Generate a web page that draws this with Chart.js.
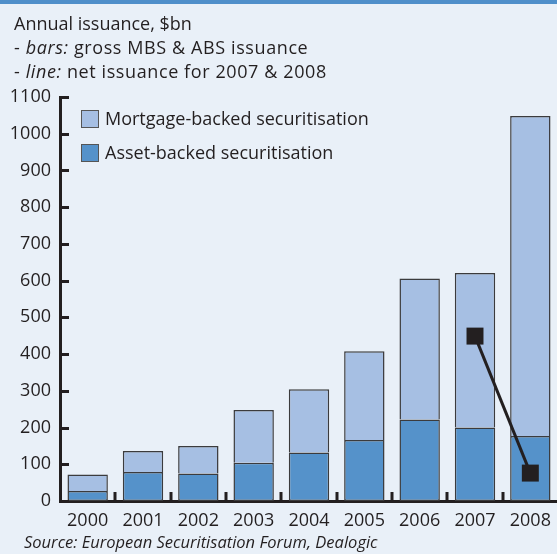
<!DOCTYPE html>
<html>
<head>
<meta charset="utf-8">
<script src="https://cdn.jsdelivr.net/npm/chart.js@4.4.1/dist/chart.umd.min.js"></script>
<style>
    html, body {
        margin: 0;
        padding: 0;
        overflow: hidden;
        background: #e9f0f8;
        font-family: "Open Sans", sans-serif;
        color: #231f20;
    }
    #topband {
        position: absolute;
        left: 0;
        top: 0;
        width: 557px;
        height: 4px;
        background: #4f8fca;
    }
    #box {
        position: absolute;
        left: 0;
        top: 0;
        width: 570px;
        height: 554px;
    }
    .head {
        position: absolute;
        left: 14px;
        font-size: 18px;
        line-height: 20px;
        white-space: nowrap;
    }
    .head.sub {
        letter-spacing: 0.6px;
    }
    .legend {
        position: absolute;
        font-size: 18px;
        line-height: 20px;
        white-space: nowrap;
    }
    .legend span {
        display: inline-block;
        width: 16px;
        height: 16px;
        border: 1px solid #555;
        vertical-align: -3px;
        margin-right: 6px;
    }
    .source {
        position: absolute;
        left: 24px;
        top: 530px;
        font-size: 16.5px;
        font-style: italic;
        white-space: nowrap;
    }
</style>
</head>
<body>
<div id="box"><canvas id="myChart" width="570" height="554"></canvas></div>
<div id="topband"></div>
<div class="head" style="top:13px">Annual issuance, $bn</div>
<div class="head sub" style="top:37px">- <i>bars:</i> gross MBS &amp; ABS issuance</div>
<div class="head sub" style="top:61px">- <i>line:</i> net issuance for 2007 &amp; 2008</div>
<div class="legend" style="left:81px;top:108px"><span style="background:#a6bfe3"></span>Mortgage-backed securitisation</div>
<div class="legend" style="left:81px;top:142px"><span style="background:#5592ca"></span>Asset-backed securitisation</div>
<div class="source">Source: European Securitisation Forum, Dealogic</div>

<script>
const years = ['2000', '2001', '2002', '2003', '2004', '2005', '2006', '2007', '2008'];

// gross issuance, $bn
const assetBacked = [27, 79, 75, 104, 132, 166, 222, 200, 177];
const mortgageBacked = [45, 57, 75, 144, 172, 242, 384, 421, 871];

// net issuance, only 2007 & 2008
const netIssuance = [null, null, null, null, null, null, null, 449, 76];

const yTicks = [0, 100, 200, 300, 400, 500, 600, 700, 800, 900, 1000, 1100];

const ink = '#231f20';
const barEdge = '#3b3b3d';

// short tick marks pointing into the plot: right of the y axis, up from the x axis
const innerTicks = {
    id: 'innerTicks',
    afterDraw(chart) {
        const c = chart.ctx;
        const area = chart.chartArea;
        const xs = chart.scales.x;
        const ys = chart.scales.y;
        c.save();
        c.strokeStyle = '#231f20';
        c.lineWidth = 3;
        c.beginPath();
        yTicks.forEach(v => {
            const py = Math.round(ys.getPixelForValue(v)) + 0.5;
            c.moveTo(area.left, py);
            c.lineTo(area.left + 9, py);
        });
        for (let i = 1; i < years.length; i++) {
            const px = Math.round((xs.getPixelForValue(i - 1) + xs.getPixelForValue(i)) / 2);
            c.moveTo(px, area.bottom);
            c.lineTo(px, area.bottom - 9);
        }
        c.stroke();
        c.restore();
    }
};

const myChart = new Chart(document.getElementById('myChart').getContext('2d'), {
    type: 'bar',
    data: {
        labels: years,
        datasets: [{
            type: 'line',
            label: 'Net issuance',
            data: netIssuance,
            borderColor: ink,
            borderWidth: 3,
            backgroundColor: ink,
            pointStyle: 'rect',
            pointRadius: 12,
            pointBorderWidth: 0,
            pointBackgroundColor: ink,
            stack: 'net',
            order: 0
        }, {
            label: 'Asset-backed securitisation',
            data: assetBacked,
            backgroundColor: '#5592ca',
            borderColor: barEdge,
            borderWidth: 1.5,
            borderSkipped: false,
            stack: 'gross',
            order: 1
        }, {
            label: 'Mortgage-backed securitisation',
            data: mortgageBacked,
            backgroundColor: '#a6bfe3',
            borderColor: barEdge,
            borderWidth: { top: 1.5, left: 1.5, right: 1.5, bottom: 0 },
            borderSkipped: false,
            stack: 'gross',
            order: 2
        }]
    },
    options: {
        responsive: false,
        animation: false,
        events: [],
        layout: {
            padding: { top: 97, left: 0, right: 0, bottom: 0 }
        },
        categoryPercentage: 1,
        barPercentage: 0.73,
        plugins: {
            legend: { display: false },
            tooltip: { enabled: false }
        },
        scales: {
            x: {
                stacked: true,
                afterFit: (scale) => { scale.height = 53; },
                grid: { display: false, drawTicks: false, offset: true },
                border: { display: true, color: ink, width: 3 },
                ticks: {
                    color: ink,
                    padding: 9,
                    maxRotation: 0,
                    font: { family: 'Open Sans', size: 18 }
                }
            },
            y: {
                stacked: true,
                min: 0,
                max: 1100,
                afterFit: (scale) => { scale.width = 60; },
                afterBuildTicks: (scale) => {
                    scale.ticks = yTicks.map(v => ({ value: v }));
                },
                grid: { display: false, drawTicks: false },
                border: { display: true, color: ink, width: 3 },
                ticks: {
                    color: ink,
                    padding: 9,
                    callback: (v) => String(v),
                    font: { family: 'Open Sans', size: 18 }
                }
            }
        }
    },
    plugins: [innerTicks]
});
</script>
</body>
</html>
